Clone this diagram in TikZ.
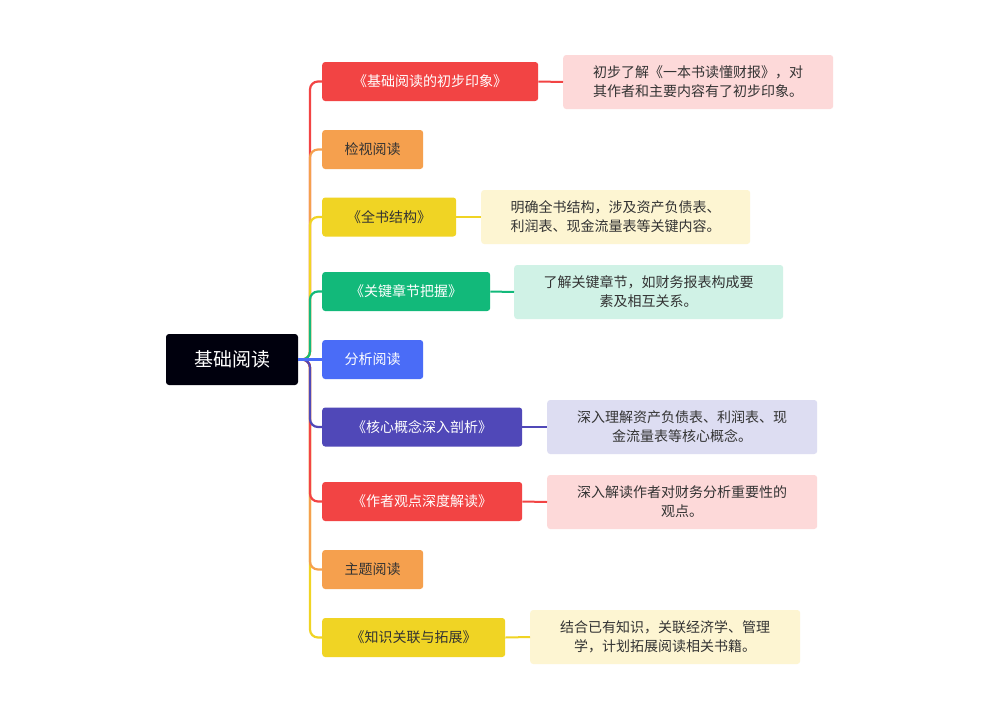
\documentclass[tikz,border=0pt]{standalone}
\usepackage{fontspec}
\setmainfont{Noto Sans CJK SC}
\begin{document}
\begin{tikzpicture}[x=1pt,y=-1pt,
  br/.style={rounded corners=3pt,minimum height=39pt,inner xsep=9pt,anchor=west,font=\fontsize{14}{16}\selectfont},
  nt/.style={rounded corners=3pt,minimum height=54pt,text width=252pt,align=center,anchor=west,font=\fontsize{14}{19}\selectfont,text=black!80},
  ln/.style={line width=2.2pt,rounded corners=8pt}]
\definecolor{cr}{HTML}{F24444}\definecolor{co}{HTML}{F5A04E}\definecolor{cy}{HTML}{F0D424}
\definecolor{cg}{HTML}{12B97A}\definecolor{cb}{HTML}{4A6CF7}\definecolor{cp}{HTML}{5048B8}
\definecolor{pr}{HTML}{FDD9D9}\definecolor{py}{HTML}{FDF5D2}\definecolor{pg}{HTML}{D0F2E6}\definecolor{pp}{HTML}{DDDDF2}
\useasboundingbox[fill=white] (0,0) rectangle (1000,720);
\node[fill=black!95!blue,text=white,rounded corners=3pt,minimum width=132pt,minimum height=51pt,font=\fontsize{19}{22}\selectfont] (root) at (232,359.5) {基础阅读};
\node[br,fill=cr,text=white,minimum width=216pt] (b1) at (322,81.5) {《基础阅读的初步印象》};
\node[br,fill=co,text=black!80,minimum width=101pt] (b2) at (322,149.5) {检视阅读};
\node[br,fill=cy,text=black!80,minimum width=134pt] (b3) at (322,217) {《全书结构》};
\node[br,fill=cg,text=white,minimum width=168pt] (b4) at (322,291.5) {《关键章节把握》};
\node[br,fill=cb,text=white,minimum width=101pt] (b5) at (322,359.5) {分析阅读};
\node[br,fill=cp,text=white,minimum width=200pt] (b6) at (322,427) {《核心概念深入剖析》};
\node[br,fill=cr,text=white,minimum width=200pt] (b7) at (322,501.5) {《作者观点深度解读》};
\node[br,fill=co,text=black!80,minimum width=101pt] (b8) at (322,569.5) {主题阅读};
\node[br,fill=cy,text=black!80,minimum width=183pt] (b9) at (322,637.5) {《知识关联与拓展》};
\node[nt,fill=pr,minimum width=270pt] (n1) at (563,82) {初步了解《一本书读懂财报》，对\\其作者和主要内容有了初步印象。};
\node[nt,fill=py,minimum width=269pt] (n3) at (481,217) {明确全书结构，涉及资产负债表、\\利润表、现金流量表等关键内容。};
\node[nt,fill=pg,minimum width=269pt] (n4) at (514,292) {了解关键章节，如财务报表构成要\\素及相互关系。};
\node[nt,fill=pp,minimum width=270pt] (n6) at (547,427) {深入理解资产负债表、利润表、现\\金流量表等核心概念。};
\node[nt,fill=pr,minimum width=270pt] (n7) at (547,502) {深入解读作者对财务分析重要性的\\观点。};
\node[nt,fill=py,minimum width=270pt] (n9) at (530,637) {结合已有知识，关联经济学、管理\\学，计划拓展阅读相关书籍。};
\begin{scope}[on background layer/.try]
\foreach \b/\c in {b9/cy,b8/co,b7/cr,b6/cp,b1/cr,b2/co,b3/cy,b4/cg}
  \draw[ln,\c] (root.east) -- (310,359.5) |- (\b.west);
\draw[ln,cb] (root.east) -- (b5.west);
\end{scope}
\foreach \b/\n/\c in {b1/n1/cr,b3/n3/cy,b4/n4/cg,b6/n6/cp,b7/n7/cr,b9/n9/cy}
  \draw[line width=2pt,\c] (\b.east) -- (\n.west);
\end{tikzpicture}
\end{document}
